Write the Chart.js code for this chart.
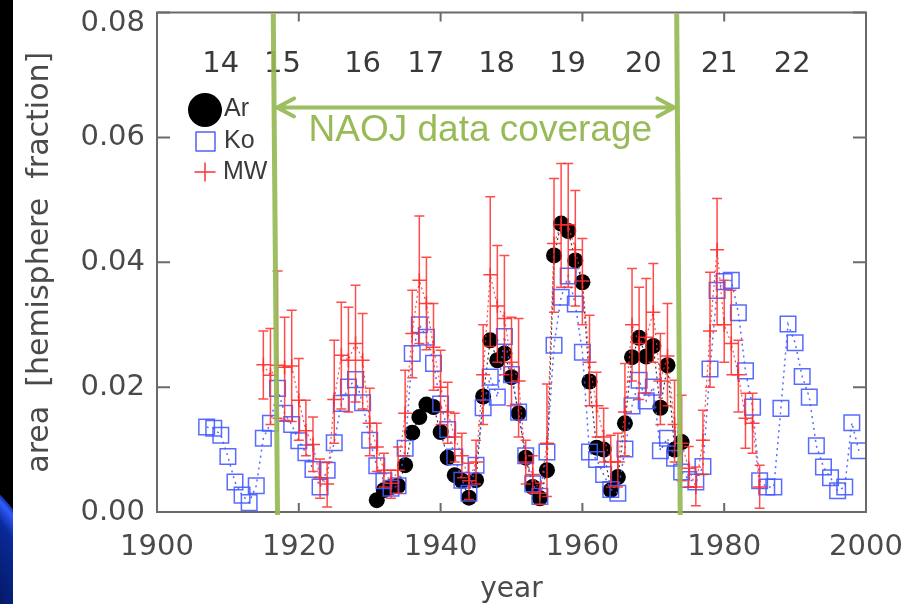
<!DOCTYPE html>
<html><head><meta charset="utf-8">
<script src="https://cdn.jsdelivr.net/npm/chart.js@4.4.0/dist/chart.umd.min.js"></script>
<style>html,body{margin:0;padding:0;background:#fff;}canvas{display:block;}</style>
</head><body>
<canvas id="c" width="919" height="604"></canvas>
<script>
// ---- tick labels ----
const xTicks = [1900, 1920, 1940, 1960, 1980, 2000];
const yTicks = [0.00, 0.02, 0.04, 0.06, 0.08];

// ---- Ko (blue squares) ----
const koYears = [1907,1908,1909,1910,1911,1912,1913,1914,1915,1916,1917,1918,1919,1920,1921,1922,1923,1924,1925,1926,1927,1928,1929,1930,1931,1932,1933,1934,1935,1936,1937,1938,1939,1940,1941,1942,1943,1944,1945,1946,1947,1948,1949,1950,1951,1952,1953,1954,1955,1956,1957,1958,1959,1960,1961,1962,1963,1964,1965,1966,1967,1968,1969,1970,1971,1972,1973,1974,1975,1976,1977,1978,1979,1980,1981,1982,1983,1984,1985,1986,1987,1988,1989,1990,1991,1992,1993,1994,1995,1996,1997,1998,1999];
const koValues = [0.0136,0.0134,0.0123,0.0089,0.0048,0.0027,0.0015,0.0042,0.0118,0.0142,0.0198,0.0158,0.0140,0.0114,0.0095,0.0068,0.0040,0.0067,0.0111,0.0174,0.0200,0.0212,0.0175,0.0115,0.0074,0.0050,0.0038,0.0042,0.0102,0.0254,0.0300,0.0280,0.0238,0.0173,0.0132,0.0088,0.0051,0.0030,0.0075,0.0167,0.0216,0.0184,0.0281,0.0220,0.0160,0.0090,0.0045,0.0025,0.0096,0.0267,0.0344,0.0378,0.0333,0.0256,0.0096,0.0084,0.0060,0.0036,0.0030,0.0101,0.0170,0.0211,0.0178,0.0200,0.0098,0.0118,0.0086,0.0064,0.0052,0.0048,0.0073,0.0229,0.0355,0.0369,0.0371,0.0319,0.0226,0.0168,0.0050,0.0040,0.0040,0.0166,0.0301,0.0271,0.0217,0.0184,0.0106,0.0072,0.0055,0.0034,0.0040,0.0143,0.0098];

// ---- Ar (black circles) ----
const arYears = [1931,1932,1933,1934,1935,1936,1937,1938,1939,1940,1941,1942,1943,1944,1945,1946,1947,1948,1949,1950,1951,1952,1953,1954,1955,1956,1957,1958,1959,1960,1961,1962,1963,1964,1965,1966,1967,1968,1969,1970,1971,1972,1973,1974];
const arValues = [0.0019,0.0035,0.0040,0.0042,0.0075,0.0127,0.0152,0.0172,0.0168,0.0128,0.0087,0.0059,0.0050,0.0023,0.0051,0.0185,0.0275,0.0243,0.0254,0.0216,0.0158,0.0087,0.0040,0.0022,0.0067,0.0411,0.0462,0.0450,0.0403,0.0368,0.0209,0.0103,0.0100,0.0035,0.0056,0.0142,0.0248,0.0279,0.0249,0.0266,0.0167,0.0235,0.0100,0.0112];

// ---- MW (red plus with error bars) ----
const mwYears = [1915,1916,1917,1918,1919,1920,1921,1922,1923,1924,1925,1926,1927,1928,1929,1930,1931,1932,1933,1934,1935,1936,1937,1938,1939,1940,1941,1942,1943,1944,1945,1946,1947,1948,1949,1950,1951,1952,1953,1954,1955,1956,1957,1958,1959,1960,1961,1962,1963,1964,1965,1966,1967,1968,1969,1970,1971,1972,1973,1974,1975,1976,1977,1978,1979,1980,1981,1982,1983,1984,1985];
const mwValues = [0.0236,0.0219,0.0235,0.0232,0.0234,0.0179,0.0130,0.0108,0.0055,0.0045,0.0180,0.0251,0.0243,0.0270,0.0243,0.0142,0.0104,0.0067,0.0046,0.0067,0.0158,0.0286,0.0371,0.0334,0.0264,0.0200,0.0160,0.0120,0.0090,0.0050,0.0080,0.0220,0.0380,0.0330,0.0310,0.0240,0.0210,0.0080,0.0060,0.0030,0.0110,0.0430,0.0460,0.0460,0.0420,0.0370,0.0240,0.0170,0.0120,0.0080,0.0080,0.0160,0.0300,0.0270,0.0280,0.0320,0.0210,0.0250,0.0140,0.0110,0.0070,0.0040,0.0115,0.0290,0.0420,0.0300,0.0270,0.0220,0.0150,0.0142,0.0040];
const mwLow = [0.0181,0.0140,0.0150,0.0147,0.0145,0.0115,0.0090,0.0065,0.0022,0.0008,0.0110,0.0165,0.0160,0.0176,0.0165,0.0090,0.0065,0.0040,0.0022,0.0030,0.0090,0.0215,0.0270,0.0260,0.0195,0.0140,0.0110,0.0080,0.0055,0.0020,0.0045,0.0140,0.0265,0.0240,0.0220,0.0170,0.0120,0.0045,0.0030,0.0012,0.0025,0.0320,0.0360,0.0360,0.0330,0.0300,0.0170,0.0120,0.0080,0.0040,0.0040,0.0090,0.0210,0.0180,0.0190,0.0240,0.0140,0.0170,0.0080,0.0050,0.0040,0.0010,0.0060,0.0200,0.0300,0.0240,0.0220,0.0160,0.0102,0.0094,0.0006];
const mwHigh = [0.0290,0.0294,0.0386,0.0312,0.0323,0.0246,0.0179,0.0152,0.0085,0.0080,0.0275,0.0336,0.0328,0.0363,0.0318,0.0198,0.0142,0.0094,0.0067,0.0104,0.0227,0.0355,0.0474,0.0408,0.0334,0.0259,0.0208,0.0158,0.0126,0.0078,0.0115,0.0300,0.0505,0.0427,0.0411,0.0312,0.0310,0.0115,0.0090,0.0046,0.0205,0.0534,0.0558,0.0558,0.0515,0.0438,0.0315,0.0224,0.0166,0.0123,0.0126,0.0238,0.0390,0.0360,0.0374,0.0398,0.0286,0.0334,0.0211,0.0187,0.0105,0.0072,0.0163,0.0384,0.0502,0.0371,0.0355,0.0275,0.0190,0.0190,0.0075];

// ---- annotations ----
const cycleLabels = ['14','15','16','17','18','19','20','21','22'];
const cycleYears  = [1909.0,1917.7,1929.0,1937.9,1947.9,1957.9,1968.6,1979.3,1989.6];
const cycleLevel = 0.0716;
const naojTopYears = [1916.4, 1973.3];
const naojBottomYears = [1917.0, 1973.8];
const arrowLevel = 0.0648;
const naojText = 'NAOJ data coverage';
const naojTextPos = [1945.6, 0.0611];

const GREEN = 'rgba(150,185,85,0.92)';
const TXT = '#4a4a4a';
const FONT = '"DejaVu Sans", sans-serif';

const toPts = (xs, ys) => xs.map((x, i) => ({x: x, y: ys[i]}));

const background = {
  id: 'background',
  beforeDraw(chart) {
    const ctx = chart.ctx;
    ctx.save();
    ctx.fillStyle = '#fff';
    ctx.fillRect(0, 0, chart.width, chart.height);
    ctx.fillStyle = '#000';
    ctx.fillRect(0, 0, 13, chart.height);
    ctx.beginPath(); ctx.rect(0, 0, 13, chart.height); ctx.clip();
    const g = ctx.createRadialGradient(-150, 640, 120, -150, 640, 209);
    g.addColorStop(0, '#000c3a');
    g.addColorStop(0.8, '#0a2a9a');
    g.addColorStop(0.95, '#2f5cff');
    g.addColorStop(1, 'rgba(40,80,255,0.6)');
    ctx.fillStyle = g;
    ctx.beginPath(); ctx.arc(-150, 640, 209, 0, Math.PI * 2); ctx.fill();
    ctx.restore();
  }
};

const errorBars = {
  id: 'errorBars',
  afterDatasetsDraw(chart) {
    const {ctx, scales: {x, y}} = chart;
    ctx.save();
    ctx.strokeStyle = 'rgba(255,45,45,0.85)';
    ctx.lineWidth = 1.5;
    mwYears.forEach((yr, i) => {
      const px = x.getPixelForValue(yr);
      const lo = y.getPixelForValue(mwLow[i]);
      const hi = y.getPixelForValue(mwHigh[i]);
      ctx.beginPath();
      ctx.moveTo(px, lo); ctx.lineTo(px, hi);
      ctx.moveTo(px - 5, lo); ctx.lineTo(px + 5, lo);
      ctx.moveTo(px - 5, hi); ctx.lineTo(px + 5, hi);
      ctx.stroke();
    });
    ctx.restore();
  }
};

const frame = {
  id: 'frame',
  afterDraw(chart) {
    const {ctx, chartArea: a, scales: {x, y}} = chart;
    ctx.save();
    ctx.strokeStyle = '#6a6a6a';
    ctx.lineWidth = 2;
    ctx.strokeRect(a.left, a.top, a.right - a.left, a.bottom - a.top);
    ctx.beginPath();
    xTicks.forEach(v => {
      const px = x.getPixelForValue(v);
      ctx.moveTo(px, a.bottom); ctx.lineTo(px, a.bottom - 9);
      ctx.moveTo(px, a.top); ctx.lineTo(px, a.top + 9);
    });
    yTicks.forEach(v => {
      const py = y.getPixelForValue(v);
      ctx.moveTo(a.left, py); ctx.lineTo(a.left + 13, py);
      ctx.moveTo(a.right, py); ctx.lineTo(a.right - 13, py);
    });
    ctx.stroke();

    // cycle numbers
    ctx.fillStyle = '#3a3a3a';
    ctx.font = '29px ' + FONT;
    ctx.textAlign = 'center';
    ctx.textBaseline = 'middle';
    cycleLabels.forEach((t, i) => {
      ctx.fillText(t, x.getPixelForValue(cycleYears[i]), y.getPixelForValue(cycleLevel));
    });

    // NAOJ vertical lines
    ctx.strokeStyle = GREEN;
    ctx.lineWidth = 5;
    for (let i = 0; i < 2; i++) {
      ctx.beginPath();
      ctx.moveTo(x.getPixelForValue(naojTopYears[i]), a.top + 1);
      ctx.lineTo(x.getPixelForValue(naojBottomYears[i]), a.bottom + 3);
      ctx.stroke();
    }
    // arrow
    const ay = y.getPixelForValue(arrowLevel);
    const frac = (ay - a.top) / (a.bottom - a.top);
    const x1 = x.getPixelForValue(naojTopYears[0] + (naojBottomYears[0] - naojTopYears[0]) * frac) + 3;
    const x2 = x.getPixelForValue(naojTopYears[1] + (naojBottomYears[1] - naojTopYears[1]) * frac) - 3;
    ctx.lineWidth = 4;
    ctx.lineCap = 'round';
    ctx.lineJoin = 'round';
    ctx.beginPath();
    ctx.moveTo(x1, ay); ctx.lineTo(x2, ay);
    ctx.moveTo(x1 + 17, ay - 9); ctx.lineTo(x1, ay); ctx.lineTo(x1 + 17, ay + 9);
    ctx.moveTo(x2 - 17, ay - 9); ctx.lineTo(x2, ay); ctx.lineTo(x2 - 17, ay + 9);
    ctx.stroke();
    ctx.fillStyle = 'rgb(152,187,88)';
    ctx.font = '37px "Liberation Sans", Arial, sans-serif';
    ctx.textAlign = 'center';
    ctx.textBaseline = 'middle';
    ctx.fillText(naojText, x.getPixelForValue(naojTextPos[0]), y.getPixelForValue(naojTextPos[1]));

    // legend
    ctx.fillStyle = '#000';
    ctx.beginPath(); ctx.arc(205, 110, 17, 0, Math.PI * 2); ctx.fill();
    ctx.strokeStyle = 'rgb(80,95,255)';
    ctx.lineWidth = 1.5;
    ctx.strokeRect(196, 132, 19, 19);
    ctx.strokeStyle = 'rgb(255,50,50)';
    ctx.beginPath();
    ctx.moveTo(195, 172); ctx.lineTo(215, 172);
    ctx.moveTo(205, 163); ctx.lineTo(205, 181);
    ctx.stroke();
    ctx.fillStyle = '#3a3a3a';
    ctx.font = '25px "Liberation Sans", Arial, sans-serif';
    ctx.textAlign = 'left';
    ctx.fillText('Ar', 224, 109);
    ctx.fillText('Ko', 224, 141);
    ctx.fillText('MW', 223, 172);
    ctx.restore();
  }
};

new Chart(document.getElementById('c'), {
  type: 'scatter',
  data: {
    datasets: [
      {
        label: 'Ar', data: toPts(arYears, arValues), showLine: true, order: 3,
        borderColor: 'rgba(0,0,0,0.8)', borderWidth: 1.2, borderDash: [2, 3],
        pointStyle: 'circle', pointRadius: 8, pointBackgroundColor: '#000', pointBorderColor: '#000', pointBorderWidth: 0
      },
      {
        label: 'Ko', data: toPts(koYears, koValues), showLine: true, order: 2,
        borderColor: 'rgba(70,90,255,0.9)', borderWidth: 1.5, borderDash: [2, 4],
        pointStyle: 'rect', pointRadius: 11, pointBackgroundColor: 'rgba(0,0,0,0)',
        pointBorderColor: 'rgba(70,90,255,0.9)', pointBorderWidth: 1.5
      },
      {
        label: 'MW', data: toPts(mwYears, mwValues), showLine: true, order: 1,
        borderColor: 'rgba(255,45,45,0.85)', borderWidth: 1.2, borderDash: [2, 3],
        pointStyle: 'cross', pointRadius: 7, pointBorderColor: 'rgba(255,45,45,0.9)', pointBorderWidth: 1.5
      }
    ]
  },
  options: {
    responsive: false,
    animation: false,
    events: [],
    layout: {padding: {top: 12, right: 53, bottom: 0, left: 0}},
    plugins: {legend: {display: false}, tooltip: {enabled: false}},
    scales: {
      x: {
        type: 'linear', min: 1900, max: 2000,
        afterBuildTicks: s => { s.ticks = xTicks.map(v => ({value: v})); },
        grid: {display: false, drawTicks: false},
        border: {display: false},
        ticks: {font: {family: FONT, size: 29}, color: TXT, padding: 18, maxRotation: 0, autoSkip: false,
                callback: v => String(v)},
        title: {display: true, text: 'year', color: TXT, font: {family: FONT, size: 28, lineHeight: 1}, padding: {top: 0, bottom: 0}},
        afterFit: s => { s.height = 92; s.paddingLeft = 0; s.paddingRight = 0; }
      },
      y: {
        type: 'linear', min: 0, max: 0.08,
        afterBuildTicks: s => { s.ticks = yTicks.map(v => ({value: v})); },
        grid: {display: false, drawTicks: false},
        border: {display: false},
        ticks: {font: {family: FONT, size: 29, lineHeight: 0.76}, color: TXT, padding: 12, autoSkip: false,
                callback: v => (Math.abs(v - 0.08) < 1e-9 ? ['', v.toFixed(2)] : v.toFixed(2))},
        title: {display: true, text: 'area  [hemisphere  fraction]', color: TXT, font: {family: FONT, size: 30, lineHeight: 1}, padding: {top: 25, bottom: 0}},
        afterFit: s => { s.width = 157; s.paddingTop = 0; s.paddingBottom = 0; }
      }
    }
  },
  plugins: [background, errorBars, frame]
});
</script>
</body></html>
